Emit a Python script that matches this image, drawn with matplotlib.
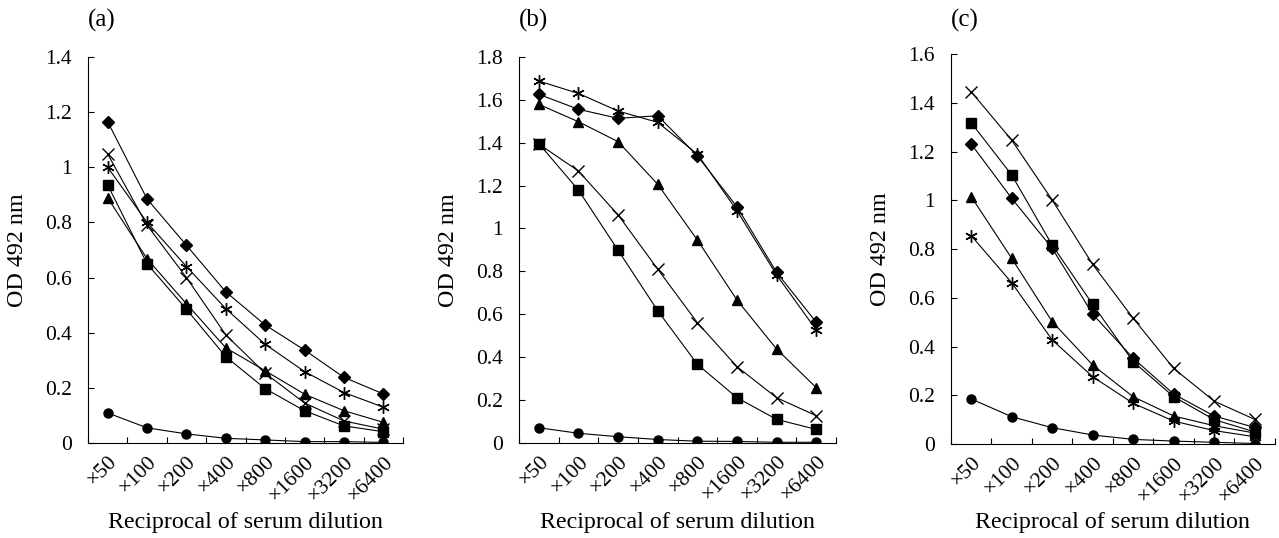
import matplotlib
matplotlib.use("Agg")
import matplotlib.pyplot as plt
import numpy as np

plt.rcParams['font.family'] = ['Liberation Serif', 'DejaVu Serif']

categories = ["×50", "×100", "×200", "×400", "×800", "×1600", "×3200", "×6400"]

# Panel (a)
a_diamond = [1.165, 0.885, 0.717, 0.548, 0.428, 0.337, 0.238, 0.178]
a_aster = [1.0, 0.80, 0.640, 0.487, 0.358, 0.259, 0.183, 0.130]
a_cross = [1.048, 0.790, 0.600, 0.392, 0.253, 0.145, 0.080, 0.050]
a_square = [0.936, 0.650, 0.485, 0.313, 0.197, 0.117, 0.062, 0.041]
a_triangle = [0.889, 0.668, 0.505, 0.345, 0.262, 0.177, 0.117, 0.075]
a_circle = [0.109, 0.055, 0.033, 0.017, 0.011, 0.005, 0.005, 0.002]

# Panel (b)
b_aster = [1.688, 1.630, 1.548, 1.495, 1.347, 1.083, 0.783, 0.526]
b_diamond = [1.626, 1.556, 1.514, 1.526, 1.339, 1.101, 0.795, 0.562]
b_triangle = [1.579, 1.498, 1.405, 1.206, 0.946, 0.666, 0.437, 0.257]
b_cross = [1.394, 1.268, 1.063, 0.810, 0.560, 0.355, 0.210, 0.126]
b_square = [1.396, 1.179, 0.898, 0.616, 0.366, 0.210, 0.109, 0.062]
b_circle = [0.070, 0.044, 0.028, 0.015, 0.007, 0.006, 0.002, 0.002]

# Panel (c)
c_cross = [1.445, 1.247, 1.001, 0.737, 0.516, 0.310, 0.176, 0.101]
c_square = [1.318, 1.104, 0.816, 0.573, 0.338, 0.194, 0.100, 0.050]
c_diamond = [1.231, 1.008, 0.803, 0.533, 0.352, 0.205, 0.115, 0.068]
c_triangle = [1.015, 0.762, 0.502, 0.324, 0.194, 0.115, 0.075, 0.045]
c_aster = [0.855, 0.662, 0.427, 0.276, 0.167, 0.094, 0.055, 0.030]
c_circle = [0.185, 0.112, 0.067, 0.037, 0.019, 0.012, 0.007, 0.002]

panel_titles = ["(a)", "(b)", "(c)"]
ymaxes = [1.4, 1.8, 1.6]

markers = {
    'diamond': dict(marker='D', ms=6),
    'square': dict(marker='s', ms=6.5),
    'triangle': dict(marker='^', ms=7.5),
    'cross': dict(marker='x', ms=8, mew=1.0),
    'aster': dict(marker=(6, 2, 0), ms=9, mew=1.0),
    'circle': dict(marker='o', ms=6.5),
}

panels = [
    [('diamond', a_diamond), ('aster', a_aster), ('cross', a_cross),
     ('square', a_square), ('triangle', a_triangle), ('circle', a_circle)],
    [('aster', b_aster), ('diamond', b_diamond), ('triangle', b_triangle),
     ('cross', b_cross), ('square', b_square), ('circle', b_circle)],
    [('cross', c_cross), ('square', c_square), ('diamond', c_diamond),
     ('triangle', c_triangle), ('aster', c_aster), ('circle', c_circle)],
]

positions = [
    [0.0688, 0.1766, 0.2463, 0.7175],
    [0.4058, 0.1771, 0.2479, 0.7169],
    [0.7435, 0.1747, 0.2533, 0.7249],
]

fig = plt.figure(figsize=(12.79, 5.38), dpi=100)
TICK_FS = 15.5
LABEL_FS = 17.3
TITLE_FS = 18

for i in range(3):
    ax = fig.add_axes(positions[i])
    x = np.arange(len(categories))
    for kind, vals in panels[i]:
        ax.plot(x, vals, color='black', lw=0.8, mfc='black', mec='black', **markers[kind])
    ax.set_xlim(-0.5, len(categories) - 0.5)
    ax.set_ylim(0, ymaxes[i])
    yt = np.round(np.arange(0, ymaxes[i] + 0.001, 0.2), 1)
    ax.set_yticks(yt)
    ax.set_yticklabels(['%g' % v for v in yt], fontsize=TICK_FS)
    ax.set_xticks(x)
    ax.set_xticklabels(categories, rotation=45, ha='right', va='top',
                       rotation_mode='anchor', fontsize=TICK_FS)
    ax.tick_params(axis='x', which='major', length=0, pad=7)
    ax.set_xticks(np.arange(-0.5, len(categories), 1.0), minor=True)
    ax.tick_params(axis='x', which='minor', direction='in', length=4, width=0.8)
    ax.tick_params(axis='y', direction='in', length=4, width=0.8, pad=11.5)
    for s in ['top', 'right']:
        ax.spines[s].set_visible(False)
    for s in ['left', 'bottom']:
        ax.spines[s].set_linewidth(0.8)
    ax.set_ylabel("OD 492 nm", fontsize=LABEL_FS, labelpad=12)
    ax.set_xlabel("Reciprocal of serum dilution", fontsize=LABEL_FS)
    h_px = positions[i][3] * 538
    ax.xaxis.set_label_coords(0.5, -(512 - (538 - positions[i][1] * 538)) / h_px)
    fig.text(positions[i][0], 1 - 27 / 538, panel_titles[i],
             fontsize=TITLE_FS, ha='left', va='baseline')

fig.savefig("out.png", dpi=100)
